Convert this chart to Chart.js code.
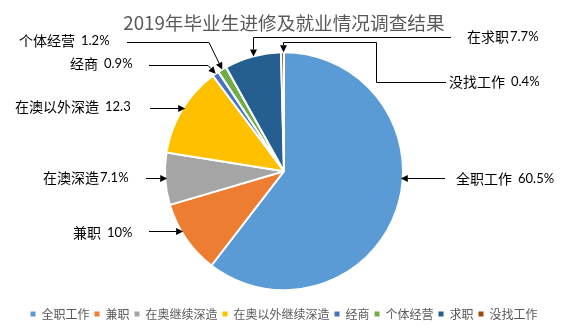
<!DOCTYPE html>
<html>
<head>
<meta charset="utf-8">
<script src="https://cdn.jsdelivr.net/npm/chart.js@4/dist/chart.umd.min.js"></script>
<style>
html,body{margin:0;padding:0;background:#fff}
#wrap{width:573px;height:330px;position:relative}
</style>
</head>
<body>
<div id="wrap"><canvas id="c"></canvas></div>
<script>
// ---- data ----
const titleText = '2019年毕业生进修及就业情况调查结果';
const categories = ['全职工作', '兼职', '在奥继续深造', '在奥以外继续深造', '经商', '个体经营', '求职', '没找工作'];
const values = [60.5, 10, 7.1, 12.3, 0.9, 1.2, 7.7, 0.4];
const calloutNames = ['全职工作', '兼职', '在澳深造', '在澳以外深造', '经商', '个体经营', '在求职', '没找工作'];
const calloutSeparators = [' ', ' ', '', ' ', ' ', ' ', '', ' '];
const calloutUnits = ['%', '%', '%', '', '%', '%', '%', '%'];
const colors = ['#5B9BD5', '#ED7D31', '#A5A5A5', '#FFC000', '#4472C4', '#70AD47', '#255E91', '#9E480E'];

// ---- callout layout (positions of annotation text and leader lines) ----
const calloutLayout = [
  {x: 456, y: 179, kind: 'h', from: 445, ay: 178},
  {x: 73, y: 233, kind: 'h', from: 149, ay: 231},
  {x: 43, y: 178, kind: 'h', from: 146, ay: 178},
  {x: 15, y: 107, kind: 'h', from: 150, ay: 108},
  {x: 70, y: 64, kind: 'elbow', from: 149, ay: 65, elbowX: 208},
  {x: 19, y: 41, kind: 'elbow', from: 127, ay: 42, elbowX: 209},
  {x: 467, y: 37, kind: 'top', from: 451, ay: 37},
  {x: 449, y: 82, kind: 'step', from: 446, ay: 82, stepX: 376, stepY: 42}
];

const calloutPlugin = {
  id: 'callouts',
  afterDraw(chart) {
    const ctx = chart.ctx;
    const meta = chart.getDatasetMeta(0);
    const a0 = meta.data[0];
    const cx = a0.x, cy = a0.y, R = a0.outerRadius;
    ctx.save();
    ctx.fillStyle = '#000';
    ctx.strokeStyle = '#000';
    ctx.lineWidth = 1;
    ctx.textBaseline = 'middle';
    ctx.textAlign = 'left';
    meta.data.forEach((arc, i) => {
      const L = calloutLayout[i];
      // text
      ctx.font = "14px 'Noto Sans CJK SC'";
      ctx.fillText(calloutNames[i], L.x, L.y);
      const w = ctx.measureText(calloutNames[i]).width;
      ctx.font = '13px Lato';
      const gap = calloutSeparators[i] ? 6 : 1;
      ctx.fillText(String(values[i]) + calloutUnits[i], L.x + w + gap, L.y);
      // leader line
      const mid = (arc.startAngle + arc.endAngle) / 2;
      const ex = cx + R * Math.cos(mid), ey = cy + R * Math.sin(mid);
      const r = v => Math.round(v) + 0.5;
      let pts;
      if (L.kind === 'h') {
        const side = L.from > cx ? 1 : -1;
        const dy = L.ay - cy;
        const tx = cx + side * (Math.sqrt(Math.max(R * R - dy * dy, 0)) - 2);
        pts = [[L.from, r(L.ay)], [tx, r(L.ay)]];
      } else if (L.kind === 'elbow') {
        pts = [[L.from, r(L.ay)], [L.elbowX, r(L.ay)], [ex, ey]];
      } else if (L.kind === 'top') {
        pts = [[L.from, r(L.ay)], [r(ex), r(L.ay)], [r(ex), ey]];
      } else {
        pts = [[L.from, r(L.ay)], [r(L.stepX), r(L.ay)], [r(L.stepX), r(L.stepY)], [r(ex), r(L.stepY)], [r(ex), ey]];
      }
      const n = pts.length;
      const [px, py] = pts[n - 2];
      const [tx, ty] = pts[n - 1];
      const len = Math.hypot(tx - px, ty - py) || 1;
      const ux = (tx - px) / len, uy = (ty - py) / len;
      const head = 7, hw = 3.5;
      const bx = tx - ux * head, by = ty - uy * head;
      ctx.beginPath();
      ctx.moveTo(pts[0][0], pts[0][1]);
      for (let k = 1; k < n - 1; k++) ctx.lineTo(pts[k][0], pts[k][1]);
      ctx.lineTo(bx, by);
      ctx.stroke();
      ctx.beginPath();
      ctx.moveTo(tx, ty);
      ctx.lineTo(bx - uy * hw, by + ux * hw);
      ctx.lineTo(bx + uy * hw, by - ux * hw);
      ctx.closePath();
      ctx.fill();
    });
    ctx.restore();
  }
};

new Chart(document.getElementById('c'), {
  type: 'pie',
  data: {
    labels: categories,
    datasets: [{
      data: values,
      backgroundColor: colors,
      borderColor: '#ffffff',
      borderWidth: 2,
      radius: 119
    }]
  },
  options: {
    responsive: true,
    maintainAspectRatio: false,
    animation: false,
    layout: {padding: {right: 5}},
    plugins: {
      title: {
        display: true,
        text: titleText,
        color: '#595959',
        font: {family: "'Noto Sans CJK SC'", size: 18.67, weight: 'normal'},
        padding: {top: 12, bottom: 5}
      },
      legend: {
        position: 'bottom',
        labels: {
          boxWidth: 5,
          boxHeight: 5,
          padding: 5,
          color: '#595959',
          font: {family: "'Noto Sans CJK SC'", size: 12},
          generateLabels(chart) {
            const items = Chart.overrides.pie.plugins.legend.labels.generateLabels(chart);
            return items.map(it => Object.assign(it, {strokeStyle: it.fillStyle, lineWidth: 0}));
          }
        }
      },
      tooltip: {enabled: false}
    }
  },
  plugins: [calloutPlugin]
});
</script>
</body>
</html>
